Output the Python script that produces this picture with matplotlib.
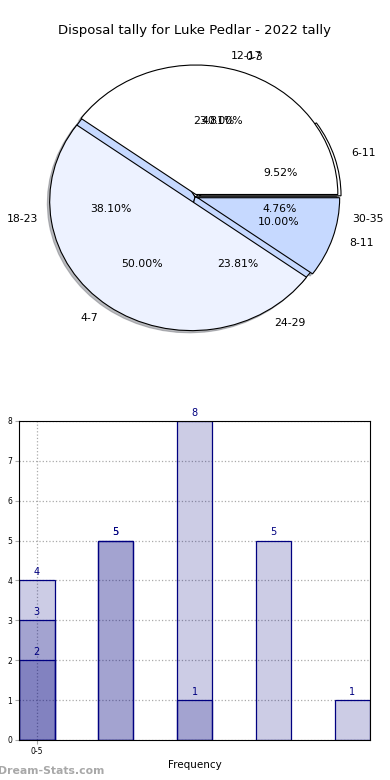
import numpy as np
import matplotlib
matplotlib.use("Agg")
import matplotlib.pyplot as plt

# pie data - disposals (outer pie) and handballs/kicks (second pie drawn over it)
pie1_labels = ["6-11", "12-17", "18-23", "24-29", "30-35"]
pie1_values = [2, 5, 8, 5, 1]
pie2_labels = ["0-3", "4-7", "8-11"]
pie2_values = [4, 5, 1]

# bar data - three overlapping series
bar_tick_labels = ["0-5"]
bars_a = [2]
bars_b = [3, 5, 1]
bars_c = [4, 5, 8, 5, 1]

plt.rcParams['font.family'] = ['DejaVu Sans']

fig = plt.figure(figsize=(3.9, 7.8), dpi=100)

fig.text(0.5, 0.961, "Disposal tally for Luke Pedlar - 2022 tally",
         ha="center", va="center", fontsize=9.5)

#Pie chart
ax1 = fig.add_axes([0.045, 0.54, 0.91, 0.415])
shd = {"ox": -0.012, "oy": -0.012, "shade": 0.5}
c1 = ["white", "white", "#c6d9ff", "#c6d9ff", "#c6d9ff"]
ax1.pie(pie1_values, labels=pie1_labels, colors=c1, autopct="%.2f%%",
        explode=[0.03, 0, 0, 0, 0], shadow=shd, startangle=0,
        labeldistance=1.12,
        wedgeprops={"edgecolor": "black", "linewidth": 0.8},
        textprops={"fontsize": 7.8})
c2 = ["white", "#edf2ff", "#c6d9ff"]
ax1.pie(pie2_values, labels=pie2_labels, colors=c2, autopct="%.2f%%",
        explode=[0.02, 0.04, 0.02], shadow=shd, startangle=0,
        labeldistance=1.12,
        wedgeprops={"edgecolor": "black", "linewidth": 0.8},
        textprops={"fontsize": 7.8})
ax1.set_aspect("auto")
ax1.set_xlim(-1.25, 1.25)
ax1.set_ylim(-1.25, 1.25)
ax1.axis("off")

#Bar chart
ax2 = fig.add_axes([0.049, 0.0513, 0.9, 0.409])
face = (0, 0, 0.5, 0.2)
w = 0.45
for vals in [bars_a, bars_b, bars_c]:
    x = np.arange(len(vals))
    ax2.bar(x, vals, width=w, color=face, edgecolor="navy", linewidth=0.9)
    for xi, v in zip(x, vals):
        ax2.text(xi, v + 0.08, str(v), ha="center", va="bottom",
                 fontsize=7, color="navy")

ax2.set_xlim(-w / 2, 4 + w / 2)
ax2.set_ylim(0, 8)
ax2.set_yticks(range(9))
ax2.set_xticks(range(len(bar_tick_labels)))
ax2.set_xticklabels(bar_tick_labels)
ax2.tick_params(labelsize=5.5, length=3, pad=2, color="#aaaaaa")
ax2.grid(True, linestyle=":", color="#aaaaaa", linewidth=0.9)
ax2.set_axisbelow(True)
ax2.set_xlabel("Frequency", fontsize=7.5, labelpad=3)

fig.text(-0.004, 0.012, "Dream-Stats.com", ha="left", va="center",
         fontsize=7.8, color="#a8a8a8", fontweight="bold")

plt.savefig("out.png", dpi=100)
